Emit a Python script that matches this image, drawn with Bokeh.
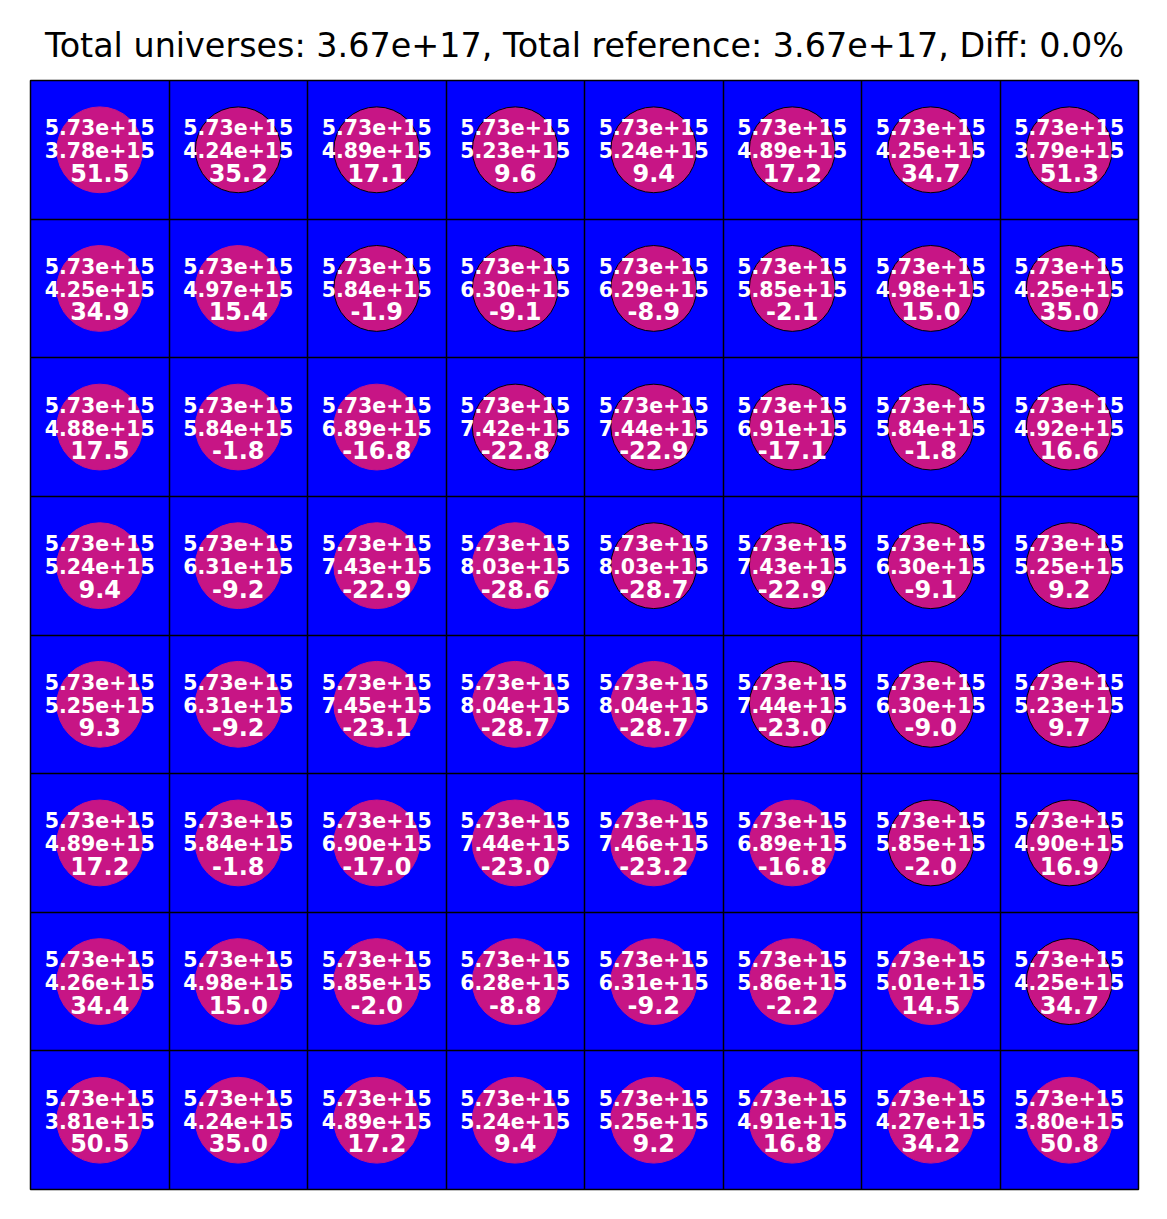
from bokeh.plotting import figure
from bokeh.models import ColumnDataSource, FixedTicker
from bokeh.core.properties import value
from bokeh.embed import file_html
from bokeh.resources import INLINE

# ---- data ----
total_universes = 3.67e17
total_reference = 3.67e17
total_diff = 0.0

reference_value = 5.73e15

universes = [
    [3.78, 4.24, 4.89, 5.23, 5.24, 4.89, 4.25, 3.79],
    [4.25, 4.97, 5.84, 6.30, 6.29, 5.85, 4.98, 4.25],
    [4.88, 5.84, 6.89, 7.42, 7.44, 6.91, 5.84, 4.92],
    [5.24, 6.31, 7.43, 8.03, 8.03, 7.43, 6.30, 5.25],
    [5.25, 6.31, 7.45, 8.04, 8.04, 7.44, 6.30, 5.23],
    [4.89, 5.84, 6.90, 7.44, 7.46, 6.89, 5.85, 4.90],
    [4.26, 4.98, 5.85, 6.28, 6.31, 5.86, 5.01, 4.25],
    [3.81, 4.24, 4.89, 5.24, 5.25, 4.91, 4.27, 3.80],
]  # units of 1e15

diffs = [
    [51.5, 35.2, 17.1, 9.6, 9.4, 17.2, 34.7, 51.3],
    [34.9, 15.4, -1.9, -9.1, -8.9, -2.1, 15.0, 35.0],
    [17.5, -1.8, -16.8, -22.8, -22.9, -17.1, -1.8, 16.6],
    [9.4, -9.2, -22.9, -28.6, -28.7, -22.9, -9.1, 9.2],
    [9.3, -9.2, -23.1, -28.7, -28.7, -23.0, -9.0, 9.7],
    [17.2, -1.8, -17.0, -23.0, -23.2, -16.8, -2.0, 16.9],
    [34.4, 15.0, -2.0, -8.8, -9.2, -2.2, 14.5, 34.7],
    [50.5, 35.0, 17.2, 9.4, 9.2, 16.8, 34.2, 50.8],
]

n = 8

xs, ys, ref_txt, uni_txt, diff_txt, line_cols = [], [], [], [], [], []
for r in range(n):
    for c in range(n):
        xs.append(c + 0.5)
        ys.append(n - r - 0.5)
        ref_txt.append("%.2e" % reference_value)
        uni_txt.append("%.2e" % (universes[r][c] * 1e15))
        diff_txt.append("%.1f" % diffs[r][c])
        line_cols.append("black" if c > r else "mediumvioletred")

src = ColumnDataSource(dict(x=xs, y=ys, y1=[v + 0.162 for v in ys],
                            y2=[v - 0.004 for v in ys], y3=[v - 0.166 for v in ys],
                            ref=ref_txt, uni=uni_txt, diff=diff_txt, lc=line_cols))

title = "Total universes: %.2e, Total reference: %.2e, Diff: %.1f%%" % (
    total_universes, total_reference, total_diff)

p = figure(width=1167, height=1219, x_range=(0, n), y_range=(0, n),
           output_backend="svg", toolbar_location=None, title=title,
           min_border_left=30, min_border_right=29, min_border_bottom=30,
           min_border_top=80)

p.title.text_font = "DejaVu Sans"
p.title.text_font_size = "33.4px"
p.title.text_font_style = "normal"
p.title.align = "center"
p.title.text_color = "black"
p.title.standoff = 32

p.background_fill_color = "#0000ff"
p.border_fill_color = "white"
p.outline_line_color = "black"
p.outline_line_width = 1.5

p.axis.visible = False
for g in (p.xgrid, p.ygrid):
    g.ticker = FixedTicker(ticks=list(range(n + 1)))
    g.grid_line_color = "black"
    g.grid_line_width = 1.5
    g.grid_line_alpha = 1.0

p.circle(x="x", y="y", radius=0.31, source=src, fill_color="mediumvioletred",
         line_color="lc", line_width=1.0)

common = dict(text_color="white", text_align="center", text_baseline="middle",
              text_font=value("DejaVu Sans"), text_font_style="bold", source=src)
p.text(x="x", y="y1", text="ref", text_font_size="20.5px", **common)
p.text(x="x", y="y2", text="uni", text_font_size="20.5px", **common)
p.text(x="x", y="y3", text="diff", text_font_size="24px", **common)

open("out.html", "w").write(file_html(p, INLINE))
